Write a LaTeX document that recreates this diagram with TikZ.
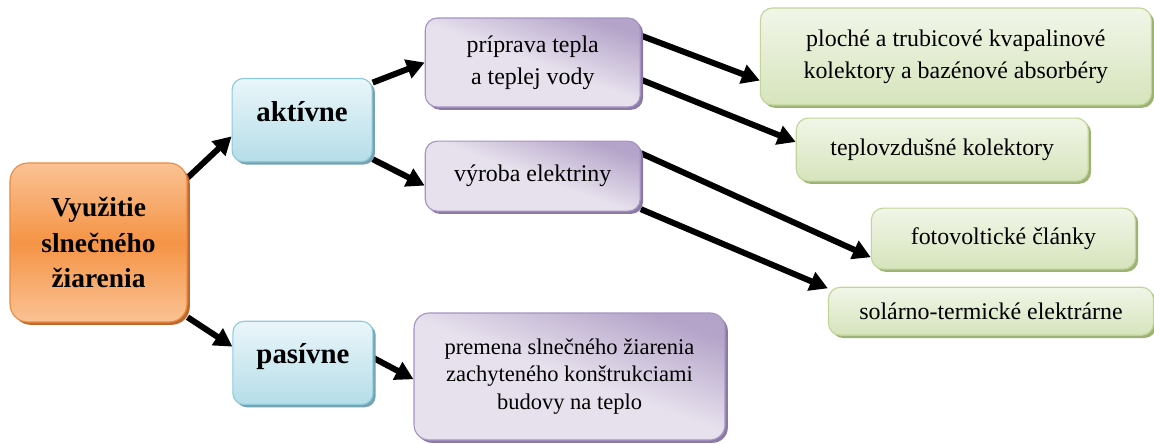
\documentclass[tikz,border=0pt]{standalone}
\usepackage{fontspec}
\setmainfont{Liberation Serif}
\usetikzlibrary{positioning, shadows, backgrounds, arrows.meta}
\definecolor{rootlight}{RGB}{250,194,148}
\definecolor{rootmid}{RGB}{245,148,70}
\definecolor{rootborder}{RGB}{236,138,66}
\definecolor{rootshadow}{RGB}{190,105,45}
\definecolor{bluelight}{RGB}{234,246,250}
\definecolor{bluedark}{RGB}{181,221,232}
\definecolor{blueborder}{RGB}{140,202,218}
\definecolor{blueshadow}{RGB}{118,162,178}
\definecolor{purplelight}{RGB}{231,225,237}
\definecolor{purpledark}{RGB}{180,164,201}
\definecolor{purpleborder}{RGB}{165,148,194}
\definecolor{purpleshadow}{RGB}{138,122,164}
\definecolor{greenlight}{RGB}{241,246,232}
\definecolor{greendark}{RGB}{214,228,188}
\definecolor{greenborder}{RGB}{193,213,152}
\definecolor{greenshadow}{RGB}{158,178,118}

\begin{document}
\begin{tikzpicture}[
    node distance=1cm,
    root/.style={rectangle, draw=rootborder, line width=0.8pt, rounded corners=0.45cm, minimum width=4.425cm, minimum height=3.975cm, top color=rootlight, bottom color=rootlight, middle color=rootmid, drop shadow={shadow xshift=0.07cm, shadow yshift=-0.07cm, fill=rootshadow, opacity=1}, align=center, font=\fontsize{19.5}{25}\selectfont\bfseries},
    level1/.style={rectangle, draw=blueborder, line width=0.8pt, rounded corners=0.28cm, minimum width=3.5cm, minimum height=2.08cm, top color=bluelight, bottom color=bluedark, drop shadow={shadow xshift=0.07cm, shadow yshift=-0.07cm, fill=blueshadow, opacity=1}, text depth=0.45cm, font=\fontsize{20.5}{25}\selectfont\bfseries},
    level2/.style={rectangle, draw=purpleborder, line width=0.8pt, rounded corners=0.3cm, top color=purpledark, bottom color=purplelight, middle color=purplelight, shading angle=-20, drop shadow={shadow xshift=0.07cm, shadow yshift=-0.07cm, fill=purpleshadow, opacity=1}, align=center, font=\fontsize{17}{22.7}\selectfont},
    level3/.style={rectangle, draw=greenborder, line width=0.8pt, rounded corners=0.3cm, top color=greenlight, bottom color=greendark, drop shadow={shadow xshift=0.07cm, shadow yshift=-0.07cm, fill=greenshadow, opacity=1}, align=center, font=\fontsize{17}{22.7}\selectfont},
    arrow/.style={-{Triangle[length=0.45cm, width=0.48cm]}, line width=0.15cm}
]
    \useasboundingbox (-2.4625,-5.0125) rectangle (26.3875,6.0625);

    % Root
    \node[root] (main) {Využitie\\slnečného\\žiarenia};

    % Active / passive
    \node[level1, right=1.1cm of main, yshift=3.06cm] (aktivne) {aktívne};
    \node[level1, right=1.12cm of main, yshift=-3.01cm] (pasivne) {pasívne};

    % Uses
    \node[level2, minimum width=5.375cm, minimum height=2.225cm, right=1.3cm of aktivne, yshift=1.44cm] (priprava) {príprava tepla\\a teplej vody};
    \node[level2, minimum width=5.375cm, minimum height=1.75cm, below=0.825cm of priprava] (vyroba) {výroba elektriny};
    \node[level2, minimum width=7.775cm, minimum height=3.175cm, rounded corners=0.38cm, font=\fontsize{16}{19.5}\selectfont, right=1cm of pasivne, yshift=-0.34cm] (premena) {premena slnečného žiarenia\\zachyteného konštrukciami\\budovy na teplo};

    % Technologies
    \node[level3, minimum width=9.775cm, minimum height=2.425cm, right=2.975cm of priprava, yshift=0.15cm] (ploche) {ploché a trubicové kvapalinové\\kolektory a bazénové absorbéry};
    \node[level3, minimum width=7.3cm, minimum height=1.575cm, below=0.3cm of ploche, xshift=-0.34cm] (teplo) {teplovzdušné kolektory};
    \node[level3, minimum width=6.6cm, minimum height=1.525cm, right=5.75cm of vyroba, yshift=-1.5625cm] (foto) {fotovoltické články};
    \node[level3, minimum width=8.125cm, minimum height=1.2cm, below=0.425cm of foto, xshift=-0.31cm] (solarno) {solárno-termické elektrárne};

    % Arrows
    \begin{scope}[on background layer]
    \draw[arrow] (main.36) -- (aktivne.193);
    \draw[arrow] (main.-40) -- (pasivne.167);
    \draw[arrow] (aktivne.28) -- (priprava.west);
    \draw[arrow] (aktivne.-29) -- (vyroba.185);
    \draw[arrow] (priprava.14) -- (ploche.187);
    \draw[arrow] (priprava.-9) -- (teplo.177);
    \draw[arrow] (vyroba.12) -- (foto.188);
    \draw[arrow] (vyroba.-17) -- (solarno.172);
    \draw[arrow] (pasivne.4) -- (premena.181);
    \end{scope}

\end{tikzpicture}
\end{document}
